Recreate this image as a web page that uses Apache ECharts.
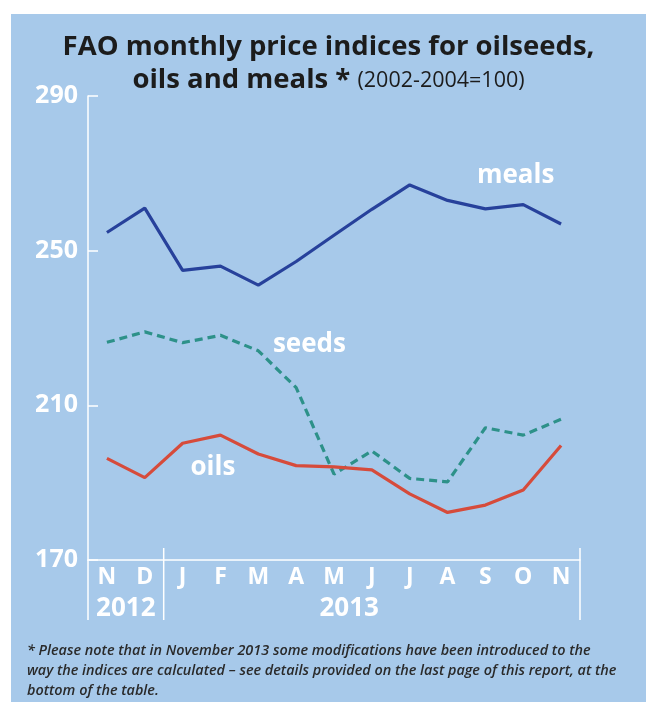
<!DOCTYPE html>
<html>
<head>
<meta charset="utf-8">
<script src="https://cdn.jsdelivr.net/npm/echarts@6/dist/echarts.min.js"></script>
<style>
html,body{margin:0;padding:0;background:#ffffff;width:646px;height:702px;overflow:hidden;}
#c{position:absolute;left:11px;top:14px;width:635px;height:688px;background:#a7c9ea;}
</style>
</head>
<body>
<div id="c"></div>
<script>
// ---- data ----
var months = ['N','D','J','F','M','A','M','J','J','A','S','O','N'];
var yearLabels = ['2012','2013'];
var meals = [254.7, 261.0, 244.9, 246.0, 241.1, 247.2, 254.0, 260.7, 267.0, 263.0, 260.8, 261.9, 256.9];
var seeds = [226.3, 229.0, 226.2, 228.1, 224.1, 214.6, 192.2, 198.2, 191.1, 190.2, 204.2, 202.3, 206.4];
var oils  = [196.3, 191.3, 200.2, 202.3, 197.4, 194.4, 194.1, 193.3, 187.1, 182.3, 184.2, 188.1, 199.6];
var yTicks = [170, 210, 250, 290];
var seriesNames = ['meals','seeds','oils'];

var chart = echarts.init(document.getElementById('c'));
var fontMain = '"Open Sans", "Noto Sans", sans-serif';
var option = {
  animation: false,
  title: [{
    left: 'center',
    top: 12,
    text: 'FAO monthly price indices for oilseeds,\n{b|oils and meals *} {r|(2002-2004=100)}',
    textStyle: {
      fontFamily: fontMain, fontWeight: 'bold', fontSize: 27.5, color: '#1c1c1c', lineHeight: 33,
      rich: {
        b: {fontFamily: fontMain, fontWeight: 'bold', fontSize: 27.5, color: '#1c1c1c', lineHeight: 33},
        r: {fontFamily: fontMain, fontWeight: 'normal', fontSize: 21.5, color: '#1c1c1c', lineHeight: 33}
      }
    }
  },{
    left: 11,
    top: 622,
    text: '* Please note that in November 2013 some modifications have been introduced to the\nway the indices are calculated \u2013 see details provided on the last page of this report, at the\nbottom of the table.',
    textStyle: {
      fontFamily: fontMain, fontStyle: 'italic', fontWeight: 600, fontSize: 14.4, color: '#2a2a2a', lineHeight: 20
    }
  }],
  grid: {left: 77, right: 66, top: 82, bottom: 142, containLabel: false},
  xAxis: {
    type: 'category',
    data: months,
    boundaryGap: true,
    axisLine: {lineStyle: {color: '#ffffff', width: 1.5}},
    axisTick: {inside: true, length: 12, lineStyle: {color: '#ffffff', width: 1.2}},
    axisLabel: {color: '#ffffff', fontFamily: fontMain, fontWeight: 'bold', fontSize: 23, margin: 6}
  },
  yAxis: {
    type: 'value',
    min: yTicks[0], max: yTicks[yTicks.length-1], interval: 40,
    axisLine: {show: true, lineStyle: {color: '#ffffff', width: 1.5}},
    axisTick: {show: true, inside: true, length: 10, lineStyle: {color: '#ffffff', width: 1.5}},
    splitLine: {show: false},
    axisLabel: {color: '#ffffff', fontFamily: fontMain, fontWeight: 'bold', fontSize: 25, margin: 10}
  },
  series: [
    {name: seriesNames[0], type: 'line', data: meals, symbol: 'none', z: 3,
     lineStyle: {color: '#27419b', width: 3.2}},
    {name: seriesNames[1], type: 'line', data: seeds, symbol: 'none', z: 2,
     lineStyle: {color: '#2d9189', width: 3.2, type: [8, 5]}},
    {name: seriesNames[2], type: 'line', data: oils, symbol: 'none', z: 4,
     lineStyle: {color: '#d64b3b', width: 3.2}}
  ]
};
chart.setOption(option);

// decorations derived from the axes
function px(i, v) { return chart.convertToPixel({gridIndex: 0}, [i, v]); }
var step = px(1, 170)[0] - px(0, 170)[0];
var yAxisPix = px(0, yTicks[0])[1];
var g = [];
var dividerIdx = [0, 2, months.length]; // boundaries before these indices
dividerIdx.forEach(function (i) {
  var x = px(0, 170)[0] + i * step - step / 2;
  g.push({type: 'line', shape: {x1: x, y1: yAxisPix - (i === 0 ? 0 : 12), x2: x, y2: yAxisPix + 60},
          style: {stroke: '#ffffff', lineWidth: 1.5}, silent: true});
});
var yearCenters = [0.5, 6.4];
yearLabels.forEach(function (t, k) {
  var p = px(0, 170);
  var x = p[0] + yearCenters[k] * step;
  g.push({type: 'text', x: x, y: yAxisPix + 49, style: {text: t, fill: '#ffffff', font: 'bold 26px ' + fontMain, textAlign: 'center', textVerticalAlign: 'middle'}, silent: true});
});
// series name labels placed in data space
var nameSpots = [[10.8, 269.5], [5.35, 225.6], [2.8, 194.0]];
seriesNames.forEach(function (n, k) {
  var s = nameSpots[k];
  var p0 = px(Math.floor(s[0]), s[1]);
  var x = p0[0] + (s[0] - Math.floor(s[0])) * step;
  g.push({type: 'text', x: x, y: p0[1], style: {text: n, fill: '#ffffff', font: 'bold 26px ' + fontMain, textAlign: 'center', textVerticalAlign: 'middle'}, silent: true});
});
chart.setOption({graphic: g});
</script>
</body>
</html>
